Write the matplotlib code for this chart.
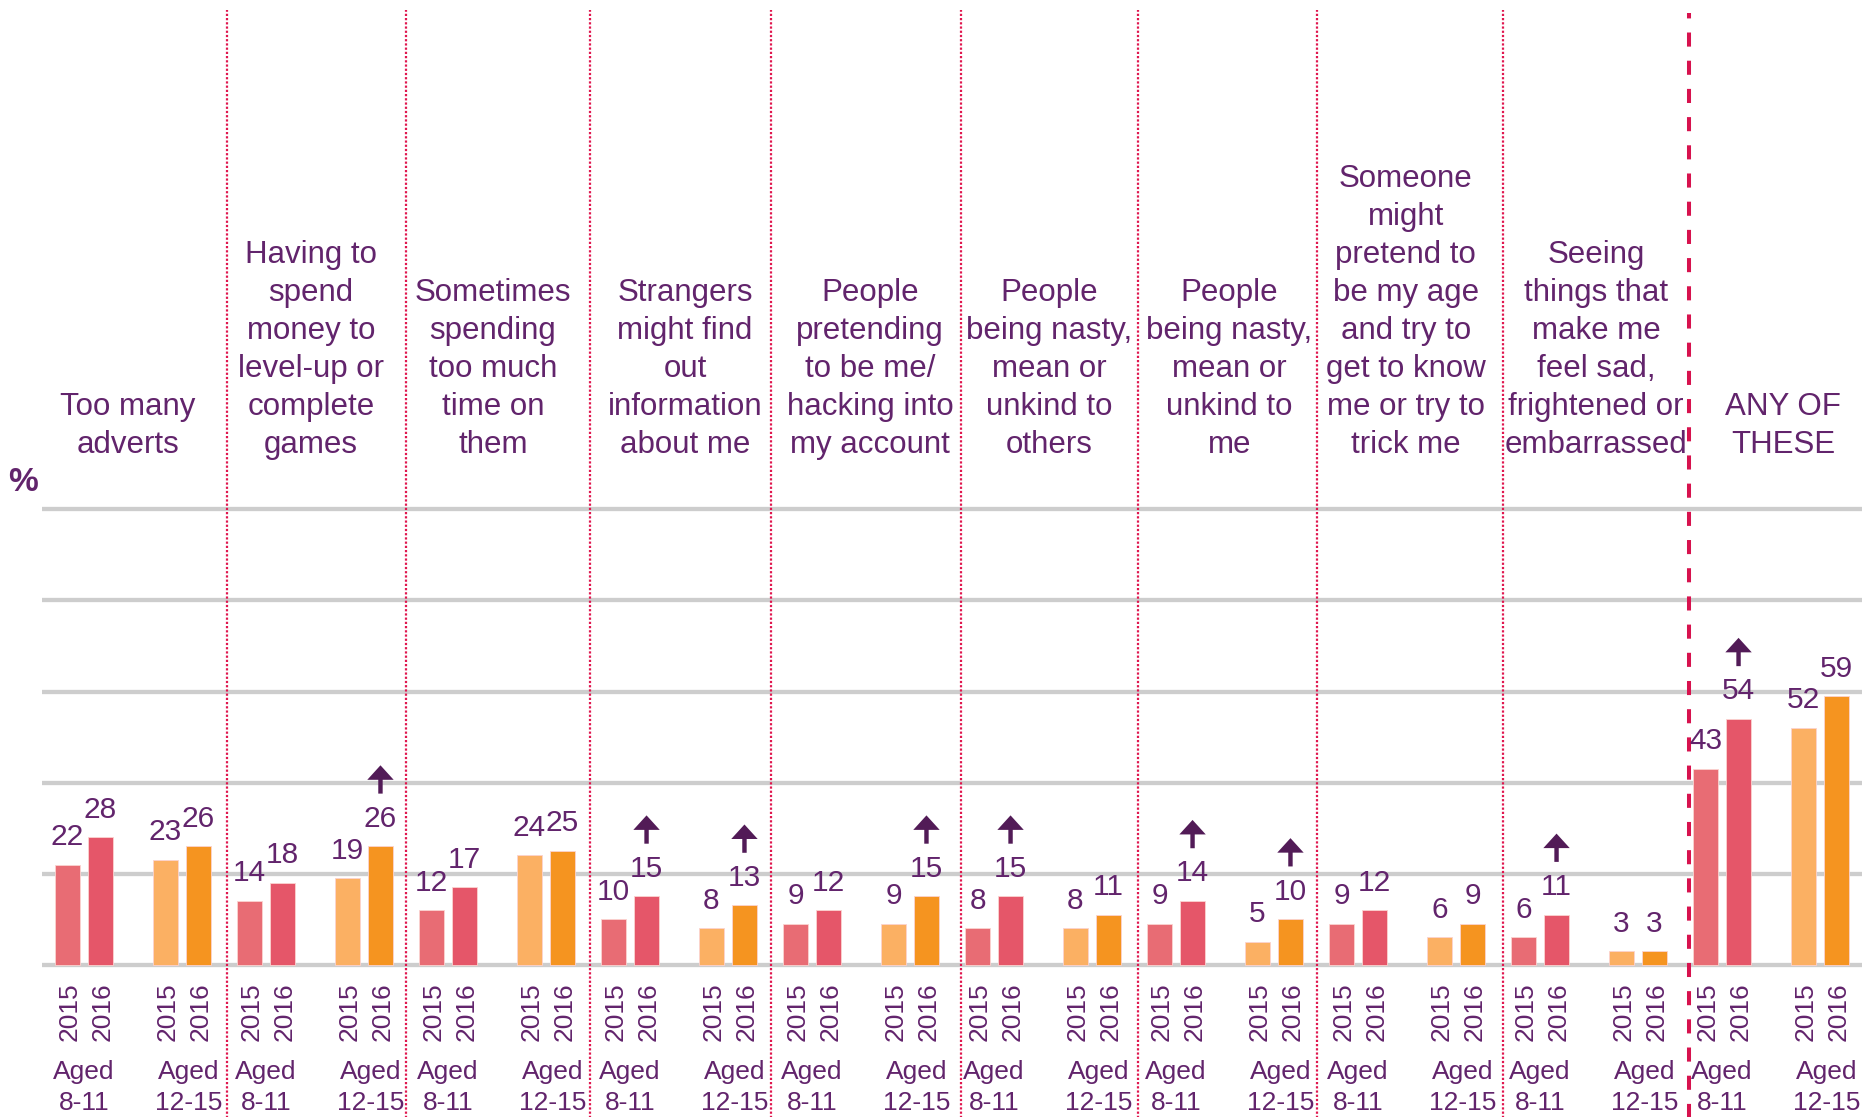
import matplotlib
matplotlib.use("Agg")
import matplotlib.pyplot as plt
import numpy as np

# chart data
categories = [
    "Too many\nadverts",
    "Having to\nspend\nmoney to\nlevel-up or\ncomplete\ngames",
    "Sometimes\nspending\ntoo much\ntime on\nthem",
    "Strangers\nmight find\nout\ninformation\nabout me",
    "People\npretending\nto be me/\nhacking into\nmy account",
    "People\nbeing nasty,\nmean or\nunkind to\nothers",
    "People\nbeing nasty,\nmean or\nunkind to\nme",
    "Someone\nmight\npretend to\nbe my age\nand try to\nget to know\nme or try to\ntrick me",
    "Seeing\nthings that\nmake me\nfeel sad,\nfrightened or\nembarrassed",
    "ANY OF\nTHESE",
]
aged_8_11_2015 = [22, 14, 12, 10, 9, 8, 9, 9, 6, 43]
aged_8_11_2016 = [28, 18, 17, 15, 12, 15, 14, 12, 11, 54]
aged_12_15_2015 = [23, 19, 24, 8, 9, 8, 5, 6, 3, 52]
aged_12_15_2016 = [26, 26, 25, 13, 15, 11, 10, 9, 3, 59]
# arrow = significant increase since 2015
up_8_11 = [False, False, False, True, False, True, True, False, True, True]
up_12_15 = [False, True, False, True, True, False, True, False, False, False]
years = ["2015", "2016"]
age_groups = ["Aged\n8-11", "Aged\n12-15"]

# styling
purple = "#62246C"
arrow_col = "#521B57"
col_8_11 = ["#E86C74", "#E55669"]
col_12_15 = ["#FBB063", "#F59420"]
grid_col = "#CDCDCD"
div_col = "#E0174F"
plt.rcParams['font.family'] = ['Liberation Sans', 'DejaVu Sans']

fig = plt.figure(figsize=(18.68, 11.17), dpi=100)
ax = fig.add_axes([0, 0, 1, 1])
ax.set_xlim(-0.7308, 9.533)
ax.set_ylim(-33.46, 211.9)
ax.axis('off')

# pixels per data unit (axes fill the figure)
px_x = 1868 / (9.533 + 0.7308)
px_y = 1117 / (211.9 + 33.46)

# gridlines
ax.hlines(np.arange(0, 101, 20), -0.5, 9.5, color=grid_col, lw=3.1, zorder=0)

# category dividers (dotted) and the "any of these" divider (dashed)
dividers = [0.515, 1.5, 2.511, 3.505, 4.548, 5.522, 6.505, 7.526]
ax.vlines(dividers, -34, 209.7, color=div_col, lw=1.6, linestyles=(0, (1, 0.9)), zorder=1)
ax.vlines(8.549, -34, 209.1, color="#D7124E", lw=2.9, linestyles=(0, (3.5, 3.5)), zorder=1)

# category labels
label_x = [-0.030, 0.978, 1.978, 3.033, 4.049, 5.036, 6.025, 6.993, 8.038, 9.066]
for xc, lab in zip(label_x, categories):
    ax.text(xc, 110.8, lab, ha='center', va='bottom', fontsize=22.5,
            color=purple, linespacing=1.35)

ax.text(-0.607, 105.9, "%", ha='center', va='center', fontsize=24,
        fontweight='bold', color=purple)

x = np.arange(len(categories))
pair_off = 0.269
bw = 0.140
boff = 0.0907


def draw_arrow(xc, top):
    tip = top + 81 / px_y
    bot = top + 52.7 / px_y
    head = 14.5 / px_y
    hw = 13.2 / px_x
    sw = 2.2 / px_x
    pts = [(xc, tip), (xc + hw, tip - head), (xc + sw, tip - head), (xc + sw, bot),
           (xc - sw, bot), (xc - sw, tip - head), (xc - hw, tip - head)]
    ax.add_patch(plt.Polygon(pts, closed=True, color=arrow_col, lw=0, zorder=4))


groups = [
    (x - pair_off, [aged_8_11_2015, aged_8_11_2016], col_8_11, up_8_11, age_groups[0]),
    (x + pair_off, [aged_12_15_2015, aged_12_15_2016], col_12_15, up_12_15, age_groups[1]),
]
for centres, series, cols, ups, agelab in groups:
    for k, (vals, c) in enumerate(zip(series, cols)):
        xs = centres + (2 * k - 1) * boff
        ax.bar(xs, vals, width=bw, color=c, edgecolor="#FBD3D0", lw=0.6, zorder=3)
        for xi, v in zip(xs, vals):
            ax.text(xi, v + 19.5 / px_y, str(v), ha='center', va='baseline',
                    fontsize=21.5, color=purple, zorder=5)
            ax.text(xi + 2 / px_x, -3.95, years[k], ha='center', va='top',
                    rotation=90, fontsize=19, color=purple)
        if k == 1:
            for xi, v, u in zip(xs, vals, ups):
                if u:
                    draw_arrow(xi, v)
    for xc in centres:
        ax.text(xc + (0.035 if agelab.endswith("12-15") else 0), -20.9, agelab,
                ha='center', va='top', fontsize=19, color=purple, linespacing=1.36)

fig.savefig("out.png", dpi=100)
